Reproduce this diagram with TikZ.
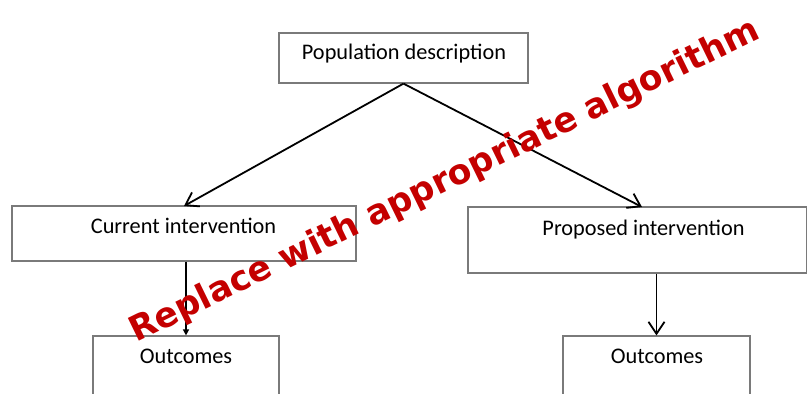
\documentclass[tikz,border=0pt]{standalone}
\usepackage{fontspec}
\setmainfont{Carlito}
\newfontfamily\wmfont{DejaVu Sans}
\usetikzlibrary{arrows.meta}
\definecolor{boxgray}{HTML}{7A7A7A}
\definecolor{wmred}{HTML}{C40000}
\begin{document}
\begin{tikzpicture}[x=1pt,y=-1pt,
  box/.style={draw=boxgray, line width=1.2pt, fill=none},
  lbl/.style={font=\fontsize{22.3}{26}\selectfont, anchor=base, inner sep=0pt},
  conn/.style={line width=1.8pt, -{Straight Barb[length=12pt,width=16pt,line width=1.8pt]}},
  smallconn/.style={line width=1.8pt, -{Triangle[length=6pt,width=6pt]}},
  wm/.style={font=\wmfont\bfseries\fontsize{34.6}{36}\selectfont, text=wmred, anchor=base west, inner sep=0pt, rotate=26}]
\useasboundingbox (0,0) rectangle (807,394);
\fill[white] (0,0) rectangle (807,394);
% boxes
\node[box, minimum width=249pt, minimum height=50pt, inner sep=0pt] (pop) at (403.5,58) {};
\node[box, minimum width=344pt, minimum height=55pt, inner sep=0pt] (cur) at (184,233.5) {};
\node[box, minimum width=339pt, minimum height=66pt, inner sep=0pt] (prop) at (637.5,240) {};
\node[box, minimum width=186pt, minimum height=80pt, inner sep=0pt] (outl) at (186,376) {};
\node[box, minimum width=187pt, minimum height=80pt, inner sep=0pt] (outr) at (656.5,376) {};
% labels
\node[lbl] (popt) at (404,59) {Population description};
\node[lbl] (curt) at (183.5,233) {Current intervention};
\node[lbl] (propt) at (643.5,235) {Proposed intervention};
\node[lbl] (outlt) at (186,363) {Outcomes};
\node[lbl] (outrt) at (657,363) {Outcomes};
% connectors
\coordinate (curtop) at (184,206);
\coordinate (proptop) at (642,207);
\draw[conn] (pop.south) -- (curtop);
\draw[conn] (pop.south) -- (proptop);
\draw[smallconn] (cur.south -| outl.north) -- (outl.north);
\draw[conn] (prop.south -| outr.north) -- (outr.north);
% watermark
\node[wm] (wmk) at (136,343) {Replace with appropriate algorithm};
\end{tikzpicture}
\end{document}
